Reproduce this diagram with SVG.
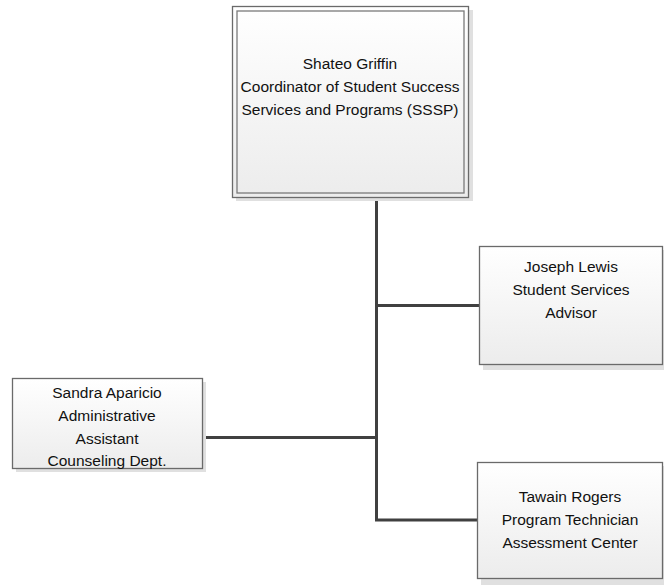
<svg xmlns="http://www.w3.org/2000/svg" width="664" height="585" viewBox="0 0 664 585">
<defs>
<linearGradient id="g" x1="0" y1="0" x2="0" y2="1">
<stop offset="0" stop-color="#ffffff"/>
<stop offset="1" stop-color="#ececec"/>
</linearGradient>
<style>
.shadow{fill:#e0e0e0;}
.box{fill:url(#g);stroke:#6a6a6a;stroke-width:1.3;}
.inner{fill:none;stroke:#7a7a7a;stroke-width:1.3;}
.t{font-family:"Liberation Sans",Arial,sans-serif;font-size:15.5px;fill:#111111;text-anchor:middle;}
.c{fill:none;stroke:#404040;stroke-width:3;}
</style>
</defs>
<rect width="664" height="585" fill="#ffffff"/>
<g id="connectors">
<path class="c" d="M376.5,198 V520 H478"/>
<path class="c" d="M376.5,305.5 H480"/>
<path class="c" d="M203,437.5 H376.5"/>
</g>
<g id="shateo">
<rect class="shadow" x="236" y="10" width="237" height="191"/>
<rect class="box" x="232.5" y="6.5" width="236" height="191"/>
<rect class="inner" x="237" y="11" width="227" height="182"/>
<text class="t" x="350" y="69">Shateo Griffin</text>
<text class="t" x="350" y="92">Coordinator of Student Success</text>
<text class="t" x="350" y="115">Services and Programs (SSSP)</text>
</g>
<g id="joseph">
<rect class="shadow" x="483" y="250" width="183" height="120"/>
<rect class="box" x="479.5" y="246.5" width="183" height="118"/>
<text class="t" x="571" y="272">Joseph Lewis</text>
<text class="t" x="571" y="295">Student Services</text>
<text class="t" x="571" y="318">Advisor</text>
</g>
<g id="sandra">
<rect class="shadow" x="16" y="382" width="190" height="90"/>
<rect class="box" x="12.5" y="378.5" width="190" height="90"/>
<text class="t" x="107" y="398">Sandra Aparicio</text>
<text class="t" x="107" y="421">Administrative</text>
<text class="t" x="107" y="444">Assistant</text>
<text class="t" x="107" y="466">Counseling Dept.</text>
</g>
<g id="tawain">
<rect class="shadow" x="481" y="466" width="185" height="119"/>
<rect class="box" x="477.5" y="462.5" width="185" height="116"/>
<text class="t" x="570" y="502">Tawain Rogers</text>
<text class="t" x="570" y="525">Program Technician</text>
<text class="t" x="570" y="548">Assessment Center</text>
</g>
</svg>
